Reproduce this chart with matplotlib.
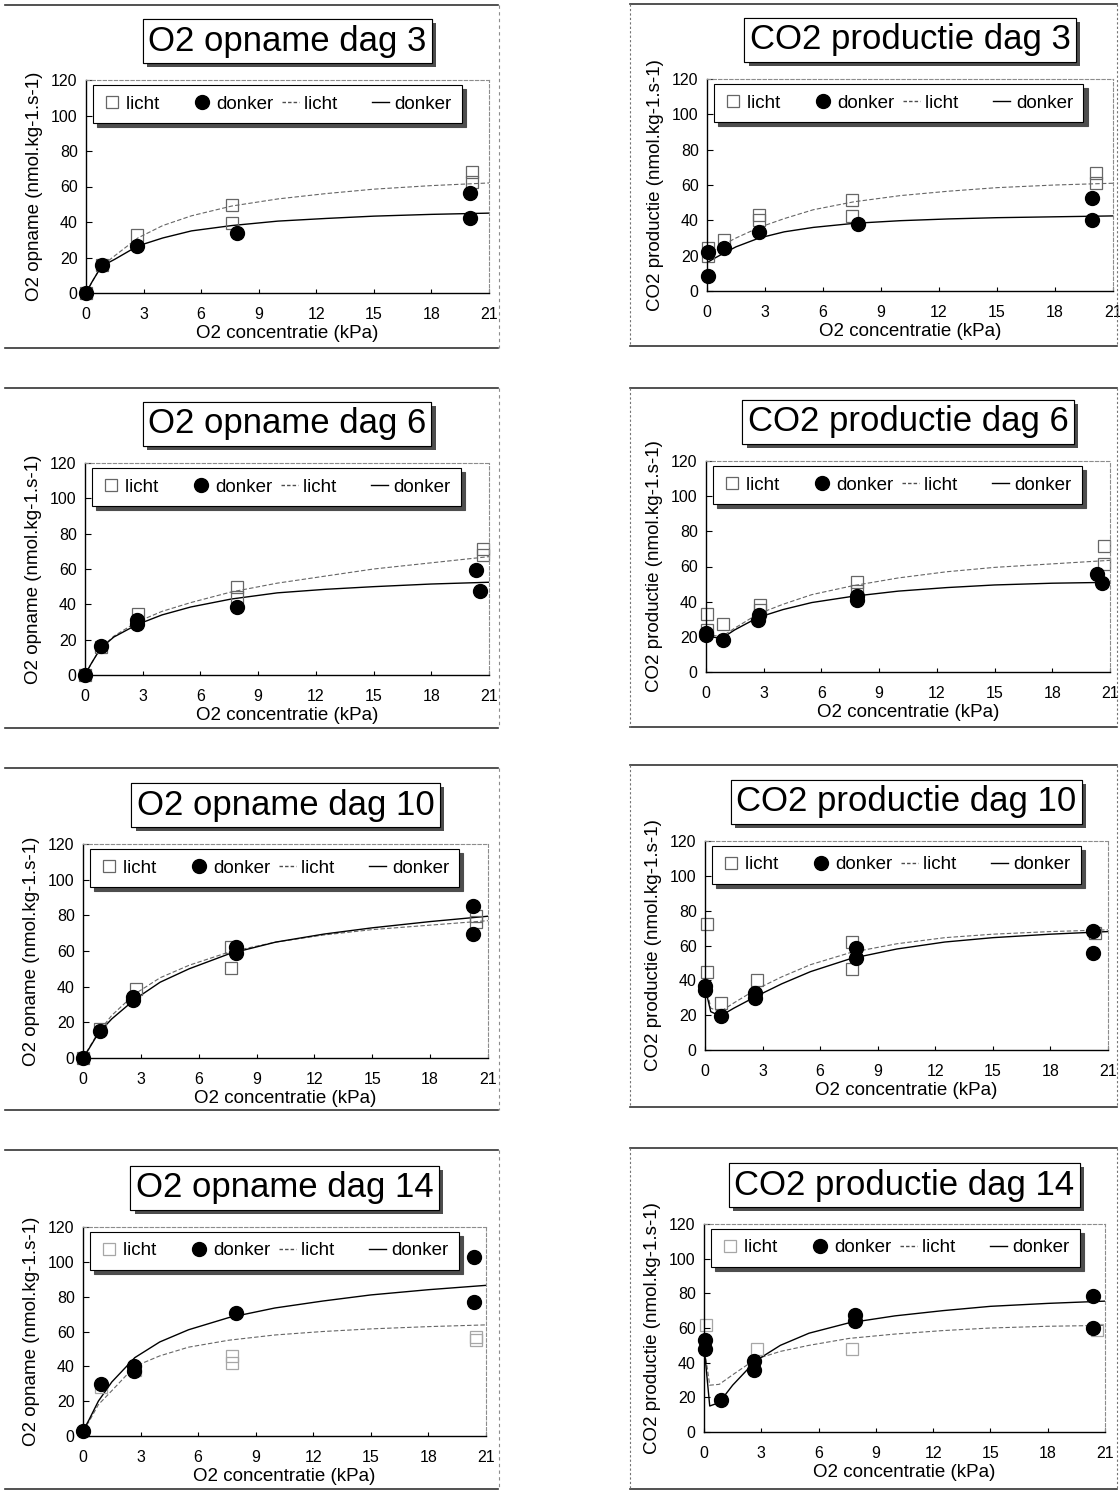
import matplotlib.pyplot as plt
import matplotlib.patheffects as pe
from matplotlib.lines import Line2D

plt.rcParams['font.family'] = ['Liberation Sans', 'DejaVu Sans']

W, H = 1120, 1490

curve_x = [0, 0.3, 0.8, 1.5, 2.7, 4, 5.5, 7.6, 10, 12.5, 15, 18, 21]

# O2 opname dag 3
o2_d3_licht_x = [0, 0.82, 2.67, 7.59, 7.59, 20.1, 20.1]
o2_d3_licht_y = [0, 15.6, 32.4, 49.5, 39.2, 68, 62.5]
o2_d3_donker_x = [0, 0.82, 2.64, 7.85, 20.0, 20.0]
o2_d3_donker_y = [0, 15.6, 26.7, 33.9, 56.5, 42]
o2_d3_fit_licht = [0, 6, 15, 21, 31, 38, 43.5, 49, 53, 56, 58.5, 60.5, 62]
o2_d3_fit_donker = [0, 6, 15, 19, 26.5, 31, 35, 38, 40.5, 42, 43.3, 44.3, 45]

# CO2 productie dag 3
co2_d3_licht_x = [0.05, 0.05, 0.88, 2.69, 2.69, 7.5, 7.5, 20.1, 20.1]
co2_d3_licht_y = [24.2, 19.8, 28.9, 43.1, 40.3, 51.6, 42.5, 66.7, 61.4]
co2_d3_donker_x = [0.05, 0.05, 0.88, 2.69, 7.79, 19.9, 19.9]
co2_d3_donker_y = [8.5, 21.9, 24.6, 33.3, 38, 52.9, 40.3]
co2_d3_fit_licht = [20, 22.5, 26, 30, 36, 41, 46, 50.5, 54, 56.5, 58.5, 60, 61]
co2_d3_fit_donker = [16, 18, 21, 25, 30, 33.5, 36, 38.3, 39.8, 40.8, 41.5, 42, 42.5]

# O2 opname dag 6
o2_d6_licht_x = [0, 0.83, 2.77, 7.88, 7.88, 20.7, 20.7]
o2_d6_licht_y = [0, 16, 34.7, 49.8, 44, 71.5, 67.7]
o2_d6_donker_x = [0, 0.83, 2.68, 2.68, 7.88, 20.3, 20.55]
o2_d6_donker_y = [0, 16.4, 29, 31.3, 38.5, 59.6, 47.5]
o2_d6_fit_licht = [0, 6, 15, 22, 30, 36, 41, 47, 52, 56, 60, 63.5, 67]
o2_d6_fit_donker = [0, 6, 15, 21.5, 28.5, 34, 38.5, 43, 46.5, 48.5, 50, 51.5, 52.5]

# CO2 productie dag 6
co2_d6_licht_x = [0.07, 0.07, 0.87, 2.8, 2.8, 7.83, 7.83, 20.7, 20.7]
co2_d6_licht_y = [33.2, 23.7, 27.5, 38.3, 35, 51, 46, 71.7, 61.7]
co2_d6_donker_x = [0, 0, 0.87, 2.69, 2.77, 7.83, 7.83, 20.35, 20.6]
co2_d6_donker_y = [20.9, 22.2, 18.4, 29.4, 32.3, 43, 40.8, 56, 50.7]
co2_d6_fit_licht = [22, 21, 20, 25, 33, 38.5, 44, 49, 53.5, 57, 59.5, 61.5, 63.5]
co2_d6_fit_donker = [21, 20, 19, 24, 31, 35.5, 39.5, 43, 46, 48, 49.5, 50.5, 51]

# O2 opname dag 10
o2_d10_licht_x = [0, 0.86, 2.73, 7.69, 7.69, 20.4, 20.4]
o2_d10_licht_y = [0, 16.5, 38.5, 62, 50.3, 79.4, 76.2]
o2_d10_donker_x = [0, 0.86, 2.59, 2.59, 7.92, 7.92, 20.2, 20.2]
o2_d10_donker_y = [0, 15, 32.5, 34, 62.5, 58.7, 85.5, 69.6]
o2_d10_fit_licht = [0, 5.5, 14.5, 24, 36, 45, 52, 59.5, 65, 69, 72, 74.5, 77]
o2_d10_fit_donker = [0, 5, 14, 22, 33, 42.5, 50, 58.5, 65, 69.5, 73, 76.5, 79.5]

# CO2 productie dag 10
co2_d10_licht_x = [0.12, 0.12, 0.83, 2.69, 7.64, 7.64, 20.3]
co2_d10_licht_y = [72.2, 45, 26.8, 40.2, 62.2, 46.3, 67]
co2_d10_donker_x = [0, 0, 0.83, 2.6, 2.6, 7.86, 7.86, 20.2, 20.2]
co2_d10_donker_y = [36.7, 34.4, 19.5, 32.5, 29.7, 58.4, 52.6, 68.5, 55.5]
co2_d10_fit_licht = [40, 24, 22, 27, 35, 42, 49, 56, 61, 64.5, 66.5, 68, 69]
co2_d10_fit_donker = [36, 22, 19.5, 24, 31, 38, 45, 52.5, 58, 62, 64.5, 66.5, 68]

# O2 opname dag 14
o2_d14_licht_x = [0.92, 2.7, 7.74, 7.74, 20.5, 20.5]
o2_d14_licht_y = [28, 38, 46, 42, 57, 55]
o2_d14_donker_x = [0, 0.92, 2.66, 2.66, 7.96, 20.4, 20.4]
o2_d14_donker_y = [3, 29.7, 37.1, 40, 70.4, 102.7, 77.2]
o2_d14_fit_licht = [3, 8, 18, 26, 40, 46, 51, 55, 58, 60, 61.5, 62.8, 63.8]
o2_d14_fit_donker = [3, 9, 20, 31, 45, 54, 61, 68, 73.5, 77.5, 81, 84, 86.5]

# CO2 productie dag 14
co2_d14_licht_x = [0.1, 2.76, 7.73, 20.6]
co2_d14_licht_y = [62, 48, 48, 58.6]
co2_d14_donker_x = [0.05, 0.05, 0.89, 2.64, 2.64, 7.9, 7.9, 20.35, 20.35]
co2_d14_donker_y = [52.9, 48.1, 18.5, 40.8, 35.7, 67.6, 64.3, 78.6, 59.9]
co2_d14_fit_licht = [50, 27, 27.5, 33, 42, 46.5, 50, 54, 56.5, 58.5, 60, 61, 61.5]
co2_d14_fit_donker = [50, 15, 17, 27, 41, 50, 57, 63, 67, 70, 72.5, 74.2, 75.5]

O2_LABEL = 'O2 opname (nmol.kg-1.s-1)'
CO2_LABEL = 'CO2 productie (nmol.kg-1.s-1)'

panels = [
    ('O2 opname dag 3', O2_LABEL, o2_d3_licht_x, o2_d3_licht_y, o2_d3_donker_x, o2_d3_donker_y,
     o2_d3_fit_licht, o2_d3_fit_donker, (86, 489, 80, 293), False),
    ('CO2 productie dag 3', CO2_LABEL, co2_d3_licht_x, co2_d3_licht_y, co2_d3_donker_x, co2_d3_donker_y,
     co2_d3_fit_licht, co2_d3_fit_donker, (707, 1113, 79, 291), False),
    ('O2 opname dag 6', O2_LABEL, o2_d6_licht_x, o2_d6_licht_y, o2_d6_donker_x, o2_d6_donker_y,
     o2_d6_fit_licht, o2_d6_fit_donker, (85, 489, 463, 675), False),
    ('CO2 productie dag 6', CO2_LABEL, co2_d6_licht_x, co2_d6_licht_y, co2_d6_donker_x, co2_d6_donker_y,
     co2_d6_fit_licht, co2_d6_fit_donker, (706, 1110, 461, 672), False),
    ('O2 opname dag 10', O2_LABEL, o2_d10_licht_x, o2_d10_licht_y, o2_d10_donker_x, o2_d10_donker_y,
     o2_d10_fit_licht, o2_d10_fit_donker, (83, 488, 844, 1058), False),
    ('CO2 productie dag 10', CO2_LABEL, co2_d10_licht_x, co2_d10_licht_y, co2_d10_donker_x, co2_d10_donker_y,
     co2_d10_fit_licht, co2_d10_fit_donker, (705, 1108, 841, 1050), False),
    ('O2 opname dag 14', O2_LABEL, o2_d14_licht_x, o2_d14_licht_y, o2_d14_donker_x, o2_d14_donker_y,
     o2_d14_fit_licht, o2_d14_fit_donker, (83, 486, 1227, 1436), True),
    ('CO2 productie dag 14', CO2_LABEL, co2_d14_licht_x, co2_d14_licht_y, co2_d14_donker_x, co2_d14_donker_y,
     co2_d14_fit_licht, co2_d14_fit_donker, (704, 1105, 1224, 1432), True),
]

fig = plt.figure(figsize=(W / 100, H / 100), dpi=100)


def fig_line(xs, ys, **kw):
    fig.add_artist(Line2D([x / W for x in xs], [1 - y / H for y in ys], **kw))


# page frames around the charts (scan)
for top, bot in [(5, 348), (388, 728), (768, 1110), (1150, 1489)]:
    fig_line([5, 498], [top, top], color='0.2', lw=1.2)
    fig_line([5, 498], [bot, bot], color='0.2', lw=1.2)
    fig_line([499, 499], [top, bot], color='0.55', lw=0.8, ls=(0, (3, 3)))
for top, bot in [(4, 346), (388, 727), (765, 1107), (1148, 1489)]:
    fig_line([630, 1117], [top, top], color='0.2', lw=1.2)
    fig_line([630, 1117], [bot, bot], color='0.2', lw=1.2)
    fig_line([630, 630], [top, bot], color='0.45', lw=0.8, ls=(0, (2, 2)))
    fig_line([1117, 1117], [top, bot], color='0.45', lw=0.8, ls=(0, (2, 2)))

for title, ylabel, lx, ly, dx, dy, fit_l, fit_d, rect, faint in panels:
    x0, x1, y0, y1 = rect
    ax = fig.add_axes([x0 / W, 1 - y1 / H, (x1 - x0) / W, (y1 - y0) / H])
    sq_col = '0.65' if faint else '0.4'

    ax.plot(curve_x, fit_l, color='0.4', lw=0.8, ls=(0, (4, 2)))
    ax.plot(curve_x, fit_d, color='black', lw=1.0)
    ax.plot(lx, ly, ls='none', marker='s', ms=9, mfc='none', mec=sq_col, mew=0.9, clip_on=False)
    ax.plot(dx, dy, ls='none', marker='o', ms=10, color='black', clip_on=False)

    ax.set_xlim(0, 21)
    ax.set_ylim(0, 120)
    ax.set_xticks(range(0, 22, 3))
    ax.set_yticks(range(0, 121, 20))
    ax.tick_params(axis='x', direction='in', length=3, pad=10, labelsize=11.5)
    ax.tick_params(axis='y', direction='in', length=4, pad=6, labelsize=11.5)
    for side in ['left', 'bottom']:
        ax.spines[side].set_color('black')
        ax.spines[side].set_linewidth(1.0)
    for side in ['top', 'right']:
        ax.spines[side].set_color('0.55')
        ax.spines[side].set_linewidth(0.8)
        ax.spines[side].set_linestyle((0, (3, 2)))

    ax.set_xlabel('O2 concentratie (kPa)', fontsize=13.5, labelpad=2)
    ax.set_ylabel(ylabel, fontsize=13.5, labelpad=6)

    handles = [
        Line2D([], [], ls='none', marker='s', ms=9, mfc='none', mec=sq_col, mew=0.9),
        Line2D([], [], ls='none', marker='o', ms=10, color='black'),
        Line2D([], [], color='0.3', lw=1.0, ls=(0, (2.5, 1.5))),
        Line2D([], [], color='black', lw=1.0),
    ]
    leg = ax.legend(handles, ['licht     ', 'donker', 'licht     ', 'donker'], ncol=4,
                    loc='upper left', bbox_to_anchor=(0.017, 0.976), borderaxespad=0,
                    fontsize=13.5, handlelength=0.9, handletextpad=0.3, columnspacing=0.45,
                    borderpad=0.55, frameon=True, fancybox=False,
                    shadow={'ox': 3, 'oy': -3, 'color': '0.3', 'alpha': 1})
    leg.get_frame().set_edgecolor('black')
    leg.get_frame().set_linewidth(0.8)
    leg.get_frame().set_alpha(1)

    t = fig.text((x0 + x1) / 2 / W, 1 - (y0 - 39) / H, title, ha='center', va='center',
                 fontsize=25,
                 bbox=dict(boxstyle='square,pad=0.15', fc='white', ec='black', lw=0.8))
    t.get_bbox_patch().set_path_effects([
        pe.withSimplePatchShadow(offset=(3, -3), shadow_rgbFace='0.3', alpha=1.0),
        pe.Normal()])

fig.savefig('out.png', dpi=100, facecolor='white')
